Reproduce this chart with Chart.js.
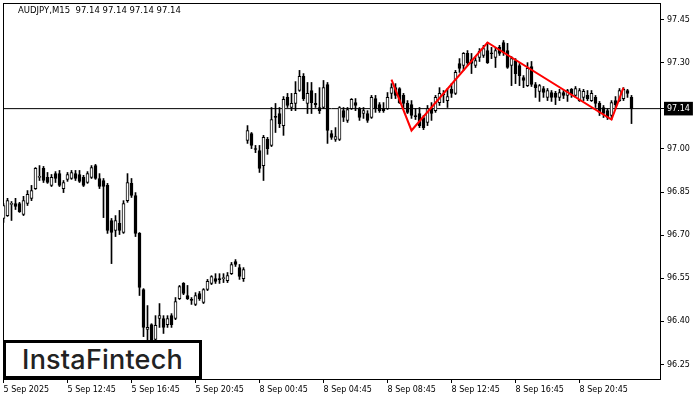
<!DOCTYPE html>
<html><head><meta charset="utf-8">
<script src="https://cdn.jsdelivr.net/npm/chart.js@4.4.1/dist/chart.umd.min.js"></script>
<style>
html,body{margin:0;padding:0;background:#fff;}
#wrap{position:relative;width:700px;height:400px;overflow:hidden;background:#fff;}
canvas{position:absolute;left:0;top:0;}
#hdr{position:absolute;left:18px;top:5px;font:8.5px "DejaVu Sans",sans-serif;white-space:pre;color:#000;}
#logo{position:absolute;left:3px;top:340px;width:199px;height:39px;box-sizing:border-box;border:3px solid #000;background:#fff;font:500 27px Inter,sans-serif;color:#222;text-align:center;line-height:33px;letter-spacing:0.2px;}
</style></head><body>
<div id="wrap"><canvas id="c" width="700" height="400"></canvas>
<div id="hdr">AUDJPY,M15  97.14 97.14 97.14 97.14</div>
<div id="logo">InstaFintech</div></div>
<script>
const opens = [
96.758,96.768,96.807,96.810,96.810,96.772,96.810,96.828,96.862,96.901,
96.932,96.901,96.873,96.914,96.914,96.862,96.894,96.897,96.914,96.911,
96.901,96.883,96.901,96.942,96.897,96.890,96.873,96.751,96.716,96.741,
96.709,96.820,96.880,96.838,96.706,96.511,96.372,96.389,96.337,96.410,
96.410,96.389,96.420,96.410,96.479,96.532,96.490,96.476,96.459,96.497,
96.466,96.511,96.532,96.549,96.546,96.549,96.542,96.566,96.608,96.587,
96.549,97.029,97.053,97.001,96.994,96.942,97.033,97.012,97.113,97.123,
97.081,97.179,97.144,97.158,97.203,97.252,97.158,97.203,97.158,97.144,
97.144,97.224,97.053,97.033,97.033,97.133,97.099,97.140,97.161,97.140,
97.123,97.123,97.109,97.175,97.154,97.140,97.140,97.193,97.213,97.210,
97.186,97.158,97.154,97.113,97.123,97.109,97.092,97.140,97.133,97.161,
97.189,97.168,97.207,97.193,97.297,97.290,97.332,97.311,97.290,97.318,
97.325,97.342,97.332,97.318,97.353,97.370,97.342,97.290,97.307,97.290,
97.248,97.220,97.286,97.224,97.200,97.210,97.179,97.196,97.193,97.179,
97.196,97.186,97.207,97.186,97.168,97.179,97.186,97.168,97.179,97.158,
97.144,97.133,97.116,97.168,97.168,97.175,97.203,97.179];
const highs = [
96.810,96.828,96.817,96.828,96.814,96.835,96.855,96.873,96.935,96.942,
96.939,96.918,96.911,96.921,96.925,96.890,96.918,96.925,96.925,96.925,
96.908,96.921,96.942,96.946,96.914,96.897,96.880,96.758,96.768,96.786,
96.820,96.914,96.897,96.848,96.709,96.514,96.455,96.392,96.420,96.462,
96.420,96.420,96.427,96.483,96.525,96.535,96.525,96.483,96.500,96.504,
96.514,96.546,96.559,96.566,96.566,96.566,96.570,96.605,96.615,96.598,
96.587,97.081,97.057,97.012,97.012,97.047,97.040,97.144,97.158,97.144,
97.182,97.193,97.193,97.234,97.273,97.262,97.231,97.231,97.193,97.213,
97.238,97.231,97.064,97.074,97.147,97.144,97.144,97.175,97.175,97.144,
97.144,97.133,97.186,97.186,97.161,97.161,97.196,97.227,97.227,97.213,
97.193,97.168,97.168,97.140,97.144,97.116,97.151,97.161,97.186,97.213,
97.203,97.210,97.227,97.273,97.314,97.335,97.342,97.332,97.318,97.349,
97.360,97.370,97.353,97.353,97.360,97.377,97.367,97.321,97.314,97.297,
97.255,97.300,97.304,97.231,97.224,97.217,97.210,97.203,97.200,97.207,
97.203,97.207,97.210,97.217,97.210,97.207,97.203,97.203,97.186,97.165,
97.151,97.140,97.168,97.182,97.210,97.213,97.207,97.186];
const lows = [
96.744,96.765,96.751,96.789,96.779,96.768,96.803,96.820,96.859,96.890,
96.883,96.880,96.869,96.883,96.869,96.848,96.887,96.894,96.890,96.883,
96.869,96.880,96.897,96.894,96.862,96.761,96.706,96.601,96.695,96.702,
96.706,96.814,96.831,96.695,96.490,96.347,96.333,96.316,96.326,96.379,
96.358,96.379,96.379,96.406,96.476,96.493,96.476,96.459,96.455,96.473,
96.462,96.507,96.528,96.532,96.532,96.535,96.535,96.563,96.591,96.546,
96.539,97.019,97.001,96.987,96.918,96.890,96.981,97.008,97.057,97.074,
97.047,97.144,97.133,97.133,97.200,97.168,97.123,97.123,97.144,97.123,
97.140,97.019,97.033,97.026,97.029,97.095,97.092,97.137,97.133,97.099,
97.106,97.092,97.106,97.127,97.127,97.127,97.137,97.175,97.175,97.158,
97.140,97.123,97.106,97.102,97.074,97.067,97.081,97.099,97.127,97.151,
97.161,97.144,97.179,97.189,97.266,97.273,97.290,97.262,97.283,97.304,
97.318,97.297,97.314,97.283,97.325,97.325,97.280,97.220,97.227,97.220,
97.213,97.217,97.217,97.179,97.165,97.179,97.168,97.165,97.154,97.168,
97.175,97.165,97.179,97.179,97.165,97.168,97.168,97.165,97.144,97.116,
97.109,97.102,97.102,97.140,97.165,97.168,97.179,97.088];
const closes = [
96.803,96.820,96.810,96.800,96.782,96.820,96.842,96.855,96.932,96.904,
96.890,96.883,96.901,96.897,96.873,96.883,96.911,96.918,96.897,96.887,
96.873,96.914,96.935,96.897,96.869,96.869,96.716,96.709,96.751,96.716,
96.810,96.883,96.838,96.706,96.518,96.379,96.379,96.333,96.386,96.420,
96.379,96.410,96.389,96.469,96.521,96.497,96.479,96.473,96.490,96.479,
96.511,96.539,96.556,96.539,96.545,96.550,96.559,96.598,96.598,96.556,
96.580,97.064,97.012,96.998,96.932,97.040,97.001,97.102,97.109,97.088,
97.172,97.151,97.158,97.193,97.252,97.175,97.193,97.161,97.154,97.133,
97.213,97.064,97.040,97.043,97.144,97.109,97.137,97.172,97.151,97.109,
97.133,97.099,97.179,97.140,97.133,97.133,97.179,97.213,97.186,97.161,
97.158,97.127,97.116,97.112,97.081,97.074,97.140,97.123,97.179,97.193,
97.188,97.182,97.193,97.266,97.280,97.332,97.300,97.297,97.307,97.339,
97.349,97.300,97.331,97.342,97.332,97.335,97.283,97.314,97.262,97.255,
97.238,97.280,97.224,97.213,97.220,97.196,97.203,97.179,97.179,97.196,
97.186,97.203,97.189,97.210,97.203,97.200,97.175,97.193,97.158,97.127,
97.123,97.109,97.161,97.154,97.203,97.207,97.193,97.140];

const currentPrice = 97.14;
const patternBars = [97, 102, 121, 152, 155];
const patternPrices = [97.241, 97.064, 97.370, 97.102, 97.213];
const xTickIdx = [0, 16, 32, 48, 64, 80, 96, 112, 128, 144];
const xTickLabels = ['5 Sep 2025','5 Sep 12:45','5 Sep 16:45','5 Sep 20:45','8 Sep 00:45','8 Sep 04:45','8 Sep 08:45','8 Sep 12:45','8 Sep 16:45','8 Sep 20:45'];
const yTickVals = [97.45, 97.30, 97.14, 97.00, 96.85, 96.70, 96.55, 96.40, 96.25];

const bodyData = opens.map((o, i) => ({x: i, y: [o, closes[i]]}));
const wickData = lows.map((l, i) => ({x: i, y: [l, highs[i]]}));
const isUp = i => closes[i] >= opens[i];
const FONT = {family: 'DejaVu Sans', size: 8};
const noPad = s => { s.paddingTop = 0; s.paddingBottom = 0; s.paddingLeft = 0; s.paddingRight = 0; };

new Chart(document.getElementById('c'), {
  data: {
    datasets: [
      {type: 'line', data: patternBars.map((x, k) => ({x, y: patternPrices[k]})), borderColor: '#ff0000', borderWidth: 2, pointRadius: 0, tension: 0, order: 0, xAxisID: 'x', yAxisID: 'y'},
      {type: 'bar', data: bodyData, backgroundColor: c => isUp(c.dataIndex) ? '#ffffff' : '#000000', borderColor: '#000', borderWidth: 1, borderSkipped: false, barThickness: 3, grouped: false, minBarLength: 1, order: 1, xAxisID: 'x', yAxisID: 'y'},
      {type: 'bar', data: wickData, backgroundColor: '#000', borderWidth: 0, barThickness: 1, grouped: false, order: 2, xAxisID: 'x', yAxisID: 'y'},
      {type: 'line', data: [{x: -2, y: currentPrice}, {x: 170, y: currentPrice}], borderColor: '#000', borderWidth: 1, pointRadius: 0, order: 3, xAxisID: 'x', yAxisID: 'y'}
    ]
  },
  options: {
    responsive: false, animation: false, devicePixelRatio: 1,
    layout: {padding: {left: 3, top: 3, right: 0, bottom: 0}},
    plugins: {legend: {display: false}, tooltip: {enabled: false}},
    scales: {
      x: {
        type: 'linear', position: 'bottom', min: -0.125, max: 164.125, offset: false,
        grid: {drawOnChartArea: false, drawTicks: true, tickLength: 4, color: '#000', offset: false},
        border: {display: true, color: '#000', width: 1},
        ticks: {autoSkip: false, maxRotation: 0, minRotation: 0, align: 'start', padding: 2, color: '#000', font: FONT,
          callback: v => { const k = xTickIdx.indexOf(v); return k >= 0 ? xTickLabels[k] : ''; }},
        afterBuildTicks: s => { s.ticks = xTickIdx.map(v => ({value: v})); },
        afterFit: s => { s.height = 21; noPad(s); }
      },
      y: {
        type: 'linear', position: 'right', min: 96.1996, max: 97.5074,
        grid: {drawOnChartArea: false, tickLength: 4, color: '#000'},
        border: {display: true, color: '#000', width: 1},
        ticks: {padding: 3, font: FONT,
          color: c => (c.tick && c.tick.value === currentPrice) ? '#fff' : '#000',
          showLabelBackdrop: c => !!(c.tick && c.tick.value === currentPrice),
          backdropColor: '#000', backdropPadding: {left: 3, right: 3, top: 2, bottom: 2},
          callback: v => Number(v).toFixed(2)},
        afterBuildTicks: s => { s.ticks = yTickVals.map(v => ({value: v})); },
        afterFit: s => { s.width = 40; noPad(s); }
      },
      x2: {
        type: 'linear', position: 'top', display: true,
        grid: {drawOnChartArea: false, drawTicks: false},
        border: {display: true, color: '#000', width: 1},
        ticks: {display: false},
        afterFit: s => { s.height = 0; noPad(s); }
      },
      y2: {
        type: 'linear', position: 'left', display: true,
        grid: {drawOnChartArea: false, drawTicks: false},
        border: {display: true, color: '#000', width: 1},
        ticks: {display: false},
        afterFit: s => { s.width = 0; noPad(s); }
      }
    }
  }
});
</script>
</body></html>
